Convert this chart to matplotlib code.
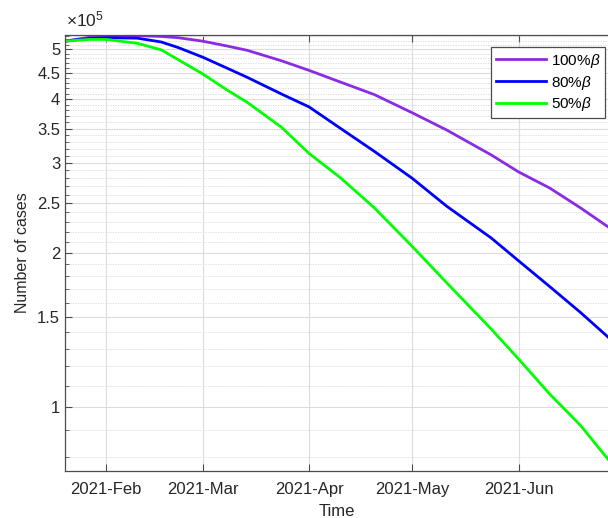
import numpy as np
import pandas as pd
import matplotlib
matplotlib.use("Agg")
import matplotlib.pyplot as plt
import matplotlib.dates as mdates
from matplotlib.ticker import FixedLocator, FuncFormatter, NullFormatter

plt.rcParams["font.family"] = ["Liberation Sans", "DejaVu Sans"]
plt.rcParams["mathtext.fontset"] = "custom"
plt.rcParams["mathtext.rm"] = "Liberation Sans"
plt.rcParams["mathtext.it"] = "Liberation Sans:italic"

# dates the curves were read at
dates = pd.to_datetime([
    "2021-01-20", "2021-01-27", "2021-02-01", "2021-02-10", "2021-02-17",
    "2021-02-22", "2021-03-01", "2021-03-08", "2021-03-14", "2021-03-24",
    "2021-04-01", "2021-04-10", "2021-04-20", "2021-05-01", "2021-05-11",
    "2021-05-24", "2021-06-01", "2021-06-10", "2021-06-19", "2021-06-27",
])

# number of cases, in units of 1e5
beta100 = [5.19, 5.28, 5.32, 5.32, 5.30, 5.27, 5.19, 5.08, 4.98, 4.75,
           4.55, 4.32, 4.08, 3.76, 3.48, 3.11, 2.88, 2.68, 2.45, 2.25]
beta80 = [5.19, 5.25, 5.27, 5.26, 5.17, 5.04, 4.83, 4.60, 4.41, 4.09,
          3.86, 3.51, 3.16, 2.80, 2.47, 2.14, 1.93, 1.72, 1.53, 1.37]
beta50 = [5.19, 5.23, 5.23, 5.14, 4.99, 4.77, 4.48, 4.17, 3.94, 3.52,
          3.13, 2.81, 2.45, 2.06, 1.75, 1.42, 1.24, 1.06, 0.92, 0.79]

labels = [r"100%$\beta$", r"80%$\beta$", r"50%$\beta$"]
colors = ["#8b2be2", "#0000ff", "#00ff00"]

major_y = [1, 1.5, 2, 2.5, 3, 3.5, 4, 4.5, 5]
minor_y = [v / 10 for v in range(8, 54) if v % 5 != 0]

fig = plt.figure(figsize=(6.08, 5.18), dpi=100)
ax = fig.add_axes([0.107, 0.091, 0.893, 0.841])

for ys, lab, c in zip([beta100, beta80, beta50], labels, colors):
    ax.plot(dates, np.array(ys) * 1e5, color=c, lw=2.0, label=lab)

ax.set_yscale("log")
ax.set_ylim(0.75e5, 5.33e5)
ax.set_xlim(pd.Timestamp("2021-01-20"), pd.Timestamp("2021-06-27"))

ax.yaxis.set_major_locator(FixedLocator([v * 1e5 for v in major_y]))
ax.yaxis.set_minor_locator(FixedLocator([v * 1e5 for v in minor_y]))
ax.yaxis.set_major_formatter(FuncFormatter(lambda v, p: f"{v / 1e5:g}"))
ax.yaxis.set_minor_formatter(NullFormatter())

ax.xaxis.set_major_locator(mdates.MonthLocator(bymonth=[2, 3, 4, 5, 6]))
ax.xaxis.set_major_formatter(mdates.DateFormatter("%Y-%b"))

ax.grid(True, which="major", color="#dcdcdc", lw=0.8)
ax.grid(True, which="minor", axis="y", color="#d8d8d8", lw=0.6, ls=(0, (1.5, 1.5)))
ax.set_axisbelow(True)

for s in ax.spines.values():
    s.set_color("#4d4d4d")
    s.set_linewidth(0.9)
ax.spines["right"].set_visible(False)
ax.tick_params(which="both", direction="in", top=True, right=False,
               colors="#4d4d4d", labelcolor="#262626", labelsize=12)
ax.tick_params(which="major", length=5)
ax.tick_params(which="minor", length=3)
ax.tick_params(axis="x", pad=8)

ax.set_xlabel("Time", fontsize=12, color="#262626", labelpad=5)
ax.set_ylabel("Number of cases", fontsize=11.5, color="#262626", labelpad=5)

fig.text(0.108, 0.944, r"$\times10^{5}$", fontsize=12.5, color="#262626",
         ha="left", va="bottom")

leg = ax.legend(loc="upper right", bbox_to_anchor=(0.995, 0.909),
                bbox_transform=fig.transFigure, borderaxespad=0, fontsize=11,
                fancybox=False, framealpha=1, edgecolor="#4d4d4d",
                handlelength=3.3, handletextpad=0.3, borderpad=0.3,
                labelspacing=0.25)
leg.get_frame().set_linewidth(0.9)

fig.savefig("out.png", dpi=100)
